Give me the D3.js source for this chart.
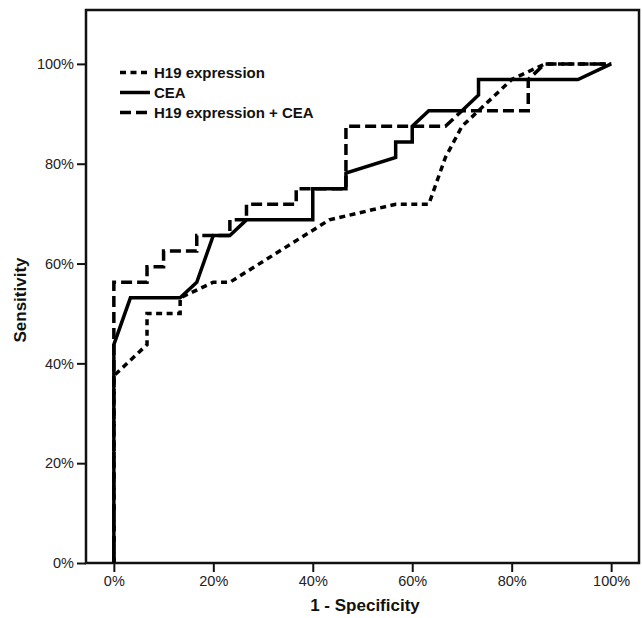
<!DOCTYPE html>
<html>
<head>
<meta charset="utf-8">
<script src="https://d3js.org/d3.v7.min.js"></script>
<style>
  body { margin: 0; background: #fff; }
  svg { display: block; font-family: "Liberation Sans", Arial, sans-serif; }
  .tick text { font-size: 14.5px; fill: #222; }
  .tick line { stroke: #111; stroke-width: 2px; }
  .axisTitle { font-size: 17px; font-weight: bold; fill: #111; }
  .legendText { font-size: 15px; font-weight: bold; fill: #111; }
</style>
</head>
<body>
<div id="chart"></div>
<script>
// ROC curves: 1 - specificity (x) vs sensitivity (y)

var seriesNames = ["H19 expression", "CEA", "H19 expression + CEA"];

var h19X = [0, 0, 0.0667, 0.0667, 0.1333, 0.1333, 0.20, 0.2333, 0.4333, 0.5667, 0.6333, 0.6667, 0.70, 0.7333, 0.80, 0.8667, 1];
var h19Y = [0, 0.375, 0.4375, 0.50, 0.50, 0.53125, 0.5625, 0.5625, 0.6875, 0.71875, 0.71875, 0.8125, 0.875, 0.90625, 0.96875, 1, 1];

var ceaX = [0, 0, 0.0333, 0.1333, 0.1667, 0.20, 0.2333, 0.2667, 0.40, 0.40, 0.4667, 0.4667, 0.5667, 0.5667, 0.60, 0.60, 0.6333, 0.70, 0.7333, 0.7333, 0.9333, 1];
var ceaY = [0, 0.4375, 0.53125, 0.53125, 0.5625, 0.65625, 0.65625, 0.6875, 0.6875, 0.75, 0.75, 0.78125, 0.8125, 0.84375, 0.84375, 0.875, 0.90625, 0.90625, 0.9375, 0.96875, 0.96875, 1];

var bothX = [0, 0, 0.0667, 0.0667, 0.10, 0.10, 0.1667, 0.1667, 0.2333, 0.2333, 0.2667, 0.2667, 0.3667, 0.3667, 0.4667, 0.4667, 0.6667, 0.70, 0.8333, 0.8333, 0.8667, 1];
var bothY = [0, 0.5625, 0.5625, 0.59375, 0.59375, 0.625, 0.625, 0.65625, 0.65625, 0.6875, 0.6875, 0.71875, 0.71875, 0.75, 0.75, 0.875, 0.875, 0.90625, 0.90625, 0.96875, 1, 1];

var tickValues = [0, 0.2, 0.4, 0.6, 0.8, 1];

// Chart details
var svgWidth = 642;
var svgHeight = 618;
var margin = { top: 10, right: 3, bottom: 55, left: 86 };
var width = svgWidth - margin.left - margin.right;
var height = svgHeight - margin.top - margin.bottom;

var svg = d3.select("#chart").append("svg")
  .attr("width", svgWidth)
  .attr("height", svgHeight);

svg.append("rect")
  .attr("width", svgWidth)
  .attr("height", svgHeight)
  .attr("fill", "#fff");

var chartGroup = svg.append("g")
  .attr("transform", `translate(${margin.left}, ${margin.top})`);

var xScale = d3.scaleLinear().domain([-0.056, 1.056]).range([0, width]);
var yScale = d3.scaleLinear().domain([0, 1.108]).range([height, 0]);

var pct = d3.format(".0%");

var xAxis = chartGroup.append("g")
  .attr("transform", `translate(0, ${height})`)
  .call(d3.axisBottom(xScale).tickValues(tickValues).tickFormat(pct).tickSize(9).tickPadding(4));

var yAxis = chartGroup.append("g")
  .call(d3.axisLeft(yScale).tickValues(tickValues).tickFormat(pct).tickSize(9).tickPadding(3));

xAxis.select(".domain").remove();
yAxis.select(".domain").remove();

// Frame
chartGroup.append("rect")
  .attr("x", 0)
  .attr("y", 0)
  .attr("width", width)
  .attr("height", height)
  .attr("fill", "none")
  .attr("stroke", "#111")
  .attr("stroke-width", 2.5);

// Curves
var curves = [
  { name: seriesNames[0], xs: h19X, ys: h19Y, dash: "6,4.5" },
  { name: seriesNames[1], xs: ceaX, ys: ceaY, dash: null },
  { name: seriesNames[2], xs: bothX, ys: bothY, dash: "11,5" }
];

var line = d3.line()
  .x(d => xScale(d[0]))
  .y(d => yScale(d[1]));

curves.forEach(function(c) {
  var pts = c.xs.map((x, i) => [x, c.ys[i]]);
  chartGroup.append("path")
    .datum(pts)
    .attr("fill", "none")
    .attr("stroke", "#000")
    .attr("stroke-width", 3.5)
    .attr("stroke-linejoin", "miter")
    .attr("stroke-dasharray", c.dash)
    .attr("d", line);
});

// Legend
var legend = svg.append("g")
  .attr("transform", "translate(120, 72.5)");

curves.forEach(function(c, i) {
  var row = legend.append("g").attr("transform", `translate(0, ${i * 20})`);
  row.append("line")
    .attr("x1", 0)
    .attr("x2", 30)
    .attr("y1", 0)
    .attr("y2", 0)
    .attr("stroke", "#000")
    .attr("stroke-width", 3.5)
    .attr("stroke-dasharray", c.dash);
  row.append("text")
    .classed("legendText", true)
    .attr("x", 34)
    .attr("y", 5)
    .text(c.name);
});

// Axis titles
svg.append("text")
  .classed("axisTitle", true)
  .attr("x", 365)
  .attr("y", 611)
  .attr("text-anchor", "middle")
  .text("1 - Specificity");

svg.append("text")
  .classed("axisTitle", true)
  .attr("transform", "translate(26, 300) rotate(-90)")
  .attr("text-anchor", "middle")
  .text("Sensitivity");
</script>
</body>
</html>
